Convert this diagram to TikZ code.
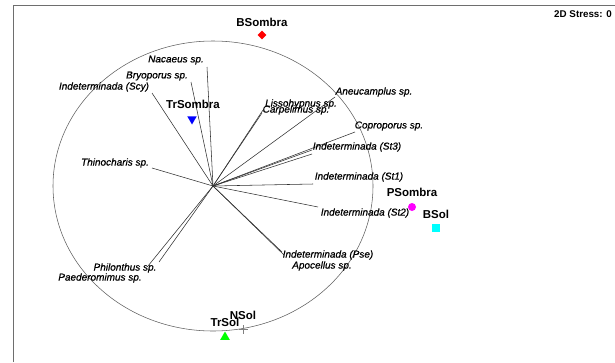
\documentclass[tikz,border=0pt]{standalone}
\usepackage{fontspec}
\setmainfont{Liberation Sans}
\newfontfamily\spfont[ItalicFeatures={FakeBold=0.7}]{Liberation Sans}
\usetikzlibrary{shapes.geometric}
\definecolor{frame}{HTML}{6E6E6E}
\definecolor{ring}{HTML}{606060}
\definecolor{vecc}{HTML}{303030}
\definecolor{pgreen}{HTML}{00FF00}
\definecolor{pcyan}{HTML}{00FFFF}
\definecolor{pmag}{HTML}{FF00FF}
\begin{document}
\begin{tikzpicture}[x=1pt,y=-1pt,
  sp/.style={font=\spfont\fontsize{10}{12}\selectfont\itshape, inner sep=0pt},
  site/.style={font=\fontsize{11.5}{13}\selectfont\bfseries, inner sep=0pt},
  vec/.style={draw=vecc, line width=0.55pt},
  mk/.style={inner sep=0pt, draw=none}]
\useasboundingbox (0,0) rectangle (615,362);
\draw[frame, line width=0.9pt] (13,362) -- (13,5) -- (615,5);
\coordinate (o) at (213,186);
\draw[ring, line width=0.55pt] (o) ellipse [x radius=160, y radius=145];
% vector ends
\coordinate (e1) at (207,67);
\coordinate (e2) at (191,82);
\coordinate (e3) at (152,93);
\coordinate (e4) at (152,168);
\coordinate (e5) at (263,110);
\coordinate (e6) at (262,113);
\coordinate (e7) at (335,97);
\coordinate (e8) at (355,132);
\coordinate (e9) at (312,150);
\coordinate (e10) at (312,154);
\coordinate (e11) at (313,184);
\coordinate (e12) at (318,207);
\coordinate (e13) at (282,252);
\coordinate (e14) at (284,255);
\coordinate (e15) at (148,266);
\coordinate (e16) at (159,262);
\foreach \i in {1,...,16} {\draw[vec] (o) -- (e\i);}
% species labels
\node[sp] (l1) at (176,60) {Nacaeus sp.};
\node[sp] (l2) at (157,76) {Bryoporus sp.};
\node[sp] (l3) at (104,87) {Indeterminada (Scy)};
\node[sp] (l4) at (115,163) {Thinocharis sp.};
\node[sp] (l5) at (301,104) {Lissohypnus sp.};
\node[sp] (l6) at (296,110) {Carpelimus sp.};
\node[sp] (l7) at (374,92) {Aneucamplus sp.};
\node[sp] (l8) at (389,126) {Coproporus sp.};
\node[sp] (l9) at (357,147) {Indeterminada (St3)};
\node[sp] (l11) at (359,177) {Indeterminada (St1)};
\node[sp] (l12) at (365,213) {Indeterminada (St2)};
\node[sp] (l13) at (328,255) {Indeterminada (Pse)};
\node[sp] (l14) at (322,266) {Apocellus sp.};
\node[sp] (l15) at (125,268) {Philonthus sp.};
\node[sp] (l16) at (100,278) {Paederomimus sp.};
% sites
\node[mk, diamond, fill=red, minimum size=9pt] (bsm) at (262,35) {};
\node[site] (bsmL) at (262,22) {BSombra};
\node[mk, regular polygon, regular polygon sides=3, shape border rotate=180, fill=blue, minimum size=11pt] (tsm) at (192,119) {};
\node[site] (tsmL) at (193,104) {TrSombra};
\node[mk, circle, fill=pmag, minimum size=8pt] (psm) at (412,207) {};
\node[site] (psmL) at (412,192) {PSombra};
\node[mk, rectangle, fill=pcyan, minimum size=7.5pt] (bsol) at (436,228) {};
\node[site] (bsolL) at (436,214) {BSol};
\node[mk, regular polygon, regular polygon sides=3, fill=pgreen, minimum size=11pt] (tsol) at (225,337) {};
\node[site] (tsolL) at (225,322) {TrSol};
\coordinate (nsol) at (243,329);
\draw[gray, line width=1pt] ([xshift=-4.5pt]nsol) -- ([xshift=4.5pt]nsol);
\draw[gray, line width=1pt] ([yshift=-4.5pt]nsol) -- ([yshift=4.5pt]nsol);
\node[site] (nsolL) at (243,315) {NSol};
\node[font=\fontsize{9.8}{12}\selectfont\bfseries, inner sep=0pt] (stress) at (583,14) {2D Stress: 0};
\end{tikzpicture}
\end{document}
